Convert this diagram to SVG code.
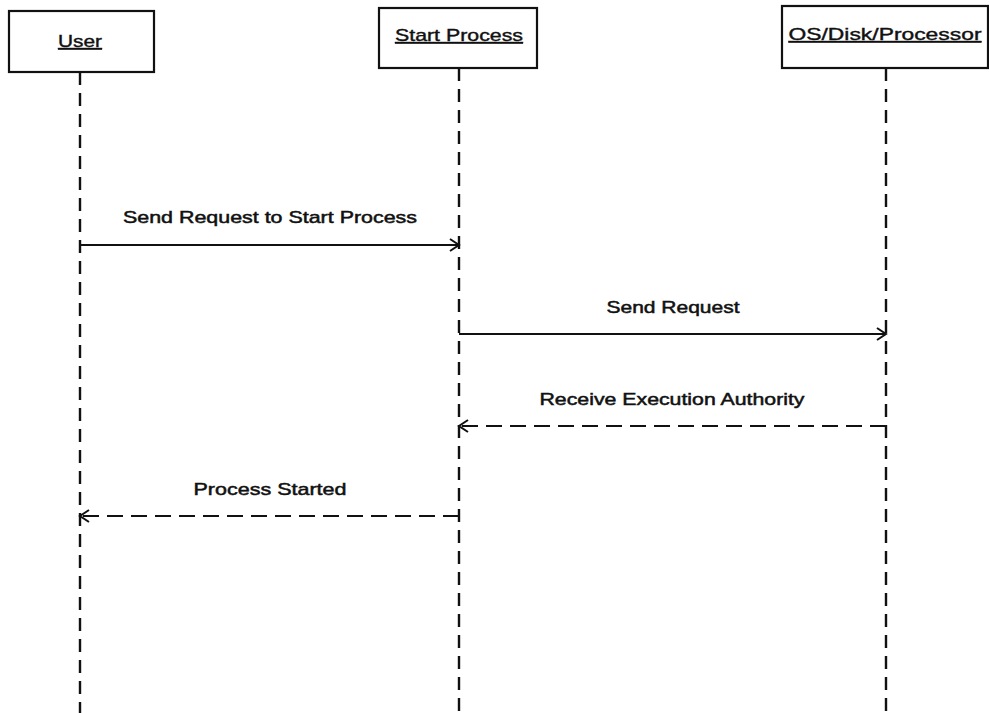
<svg xmlns="http://www.w3.org/2000/svg" width="989" height="713" viewBox="0 0 989 713">
<defs>
<marker id="open" markerWidth="12" markerHeight="14" refX="10" refY="7" orient="auto" markerUnits="userSpaceOnUse">
<path d="M1,1 L10,7 L1,13" fill="none" stroke="#111" stroke-width="2"/>
</marker>
</defs>
<style>
.box{fill:#fff;stroke:#111;stroke-width:2.2}
.hdr{font-family:"Liberation Sans",Arial,sans-serif;font-size:17px;fill:#111;stroke:#111;stroke-width:0.4;text-anchor:middle;text-decoration:underline}
.lbl{font-family:"Liberation Sans",Arial,sans-serif;font-size:17px;fill:#111;stroke:#111;stroke-width:0.5;text-anchor:middle}
.life{stroke:#111;stroke-width:2.4;stroke-dasharray:13 8;fill:none}
.msg{stroke:#111;stroke-width:2.2;fill:none;marker-end:url(#open)}
.ret{stroke:#111;stroke-width:2.2;fill:none;stroke-dasharray:16 8;marker-end:url(#open)}
</style>
<rect width="989" height="713" fill="#fff"/>
<g id="user">
<rect class="box" x="9" y="11" width="145" height="61"/>
<text class="hdr" x="80" y="47" textLength="44" lengthAdjust="spacingAndGlyphs">User</text>
<line class="life" x1="80" y1="72" x2="80" y2="713"/>
</g>
<g id="start-process">
<rect class="box" x="379" y="8" width="158" height="60"/>
<text class="hdr" x="459" y="41" textLength="128" lengthAdjust="spacingAndGlyphs">Start Process</text>
<line class="life" x1="459" y1="68" x2="459" y2="713"/>
</g>
<g id="os-disk-processor">
<rect class="box" x="782" y="6" width="206" height="62"/>
<text class="hdr" x="885" y="40" textLength="193" lengthAdjust="spacingAndGlyphs">OS/Disk/Processor</text>
<line class="life" x1="886" y1="68" x2="886" y2="713"/>
</g>
<g id="connectors">
<line class="msg" x1="80" y1="245" x2="459" y2="245"/>
<text class="lbl" x="270" y="223" textLength="294" lengthAdjust="spacingAndGlyphs">Send Request to Start Process</text>
<line class="msg" x1="459" y1="334" x2="886" y2="334"/>
<text class="lbl" x="673" y="313" textLength="133" lengthAdjust="spacingAndGlyphs">Send Request</text>
<line class="ret" x1="886" y1="426" x2="459" y2="426"/>
<text class="lbl" x="672" y="405" textLength="265" lengthAdjust="spacingAndGlyphs">Receive Execution Authority</text>
<line class="ret" x1="459" y1="516" x2="80" y2="516"/>
<text class="lbl" x="270" y="495" textLength="153" lengthAdjust="spacingAndGlyphs">Process Started</text>
</g>
</svg>
